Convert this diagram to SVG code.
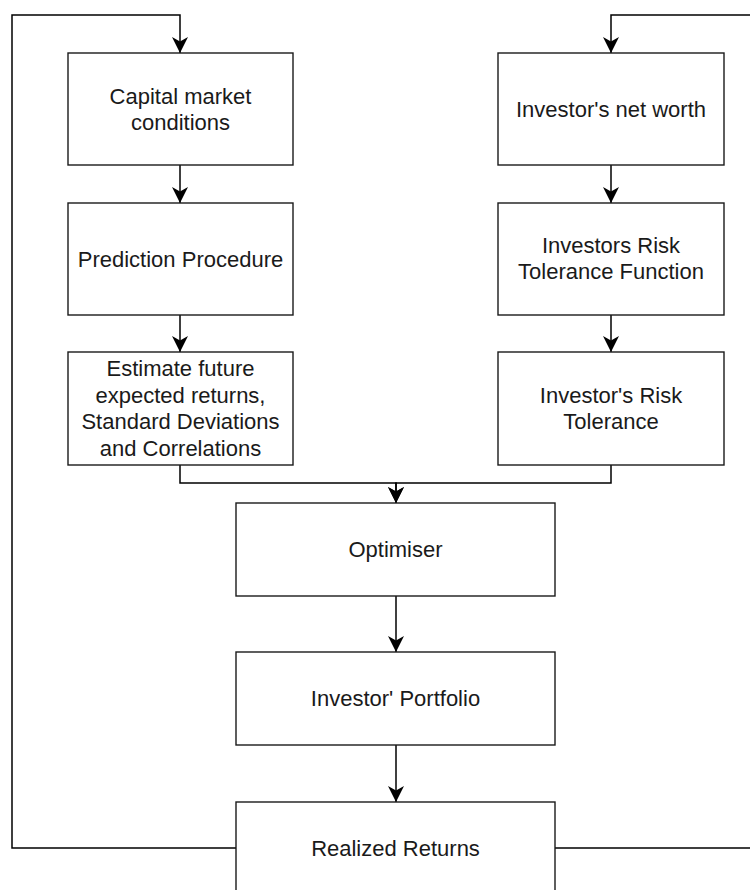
<svg xmlns="http://www.w3.org/2000/svg" width="750" height="890" viewBox="0 0 750 890">
  <defs>
    <marker id="arrow" viewBox="0 0 16 16" refX="16" refY="8" markerWidth="16" markerHeight="16" orient="auto" markerUnits="userSpaceOnUse">
      <path d="M0,0 L16,8 L0,16 L4.5,8 Z" fill="#000"/>
    </marker>
  </defs>
  <style>
    .box { fill: #fff; stroke: #1a1a1a; stroke-width: 1.4; }
    .lbl { font-family: "Liberation Sans", Arial, Helvetica, sans-serif; font-size: 22px; fill: #1a1a1a; text-anchor: middle; }
    .edge { fill: none; stroke: #000; stroke-width: 1.5; }
    .arr { marker-end: url(#arrow); }
  </style>
  <rect width="750" height="890" fill="#fff"/>

  <g id="connectors">
    <path class="edge arr" d="M236,848 H12 V15 H180 V53"/>
    <path class="edge arr" d="M555,848 H760 V15 H611 V53"/>
    <path class="edge arr" d="M180,165 V203"/>
    <path class="edge arr" d="M180,315 V352"/>
    <path class="edge arr" d="M611,165 V203"/>
    <path class="edge arr" d="M611,315 V352"/>
    <path class="edge arr" d="M180,465 V483 H396 V503"/>
    <path class="edge arr" d="M611,465 V483 H396 V503"/>
    <path class="edge arr" d="M396,596 V652"/>
    <path class="edge arr" d="M396,745 V802"/>
  </g>

  <g id="capital-market">
    <rect class="box" x="68" y="53" width="225" height="112"/>
    <text class="lbl" x="180.5" y="104">Capital market</text>
    <text class="lbl" x="180.5" y="130">conditions</text>
  </g>
  <g id="prediction">
    <rect class="box" x="68" y="203" width="225" height="112"/>
    <text class="lbl" x="180.5" y="267">Prediction Procedure</text>
  </g>
  <g id="estimate">
    <rect class="box" x="68" y="352" width="225" height="113"/>
    <text class="lbl" x="180.5" y="376">Estimate future</text>
    <text class="lbl" x="180.5" y="402.5">expected returns,</text>
    <text class="lbl" x="180.5" y="429">Standard Deviations</text>
    <text class="lbl" x="180.5" y="455.5">and Correlations</text>
  </g>
  <g id="net-worth">
    <rect class="box" x="498" y="53" width="226" height="112"/>
    <text class="lbl" x="611" y="116.7">Investor's net worth</text>
  </g>
  <g id="risk-function">
    <rect class="box" x="498" y="203" width="226" height="112"/>
    <text class="lbl" x="611" y="252.5">Investors Risk</text>
    <text class="lbl" x="611" y="279">Tolerance Function</text>
  </g>
  <g id="risk-tolerance">
    <rect class="box" x="498" y="352" width="226" height="113"/>
    <text class="lbl" x="611" y="403">Investor's Risk</text>
    <text class="lbl" x="611" y="429.4">Tolerance</text>
  </g>
  <g id="optimiser">
    <rect class="box" x="236" y="503" width="319" height="93"/>
    <text class="lbl" x="395.5" y="557">Optimiser</text>
  </g>
  <g id="portfolio">
    <rect class="box" x="236" y="652" width="319" height="93"/>
    <text class="lbl" x="395.5" y="706">Investor' Portfolio</text>
  </g>
  <g id="realized">
    <rect class="box" x="236" y="802" width="319" height="93"/>
    <text class="lbl" x="395.5" y="856">Realized Returns</text>
  </g>
</svg>
